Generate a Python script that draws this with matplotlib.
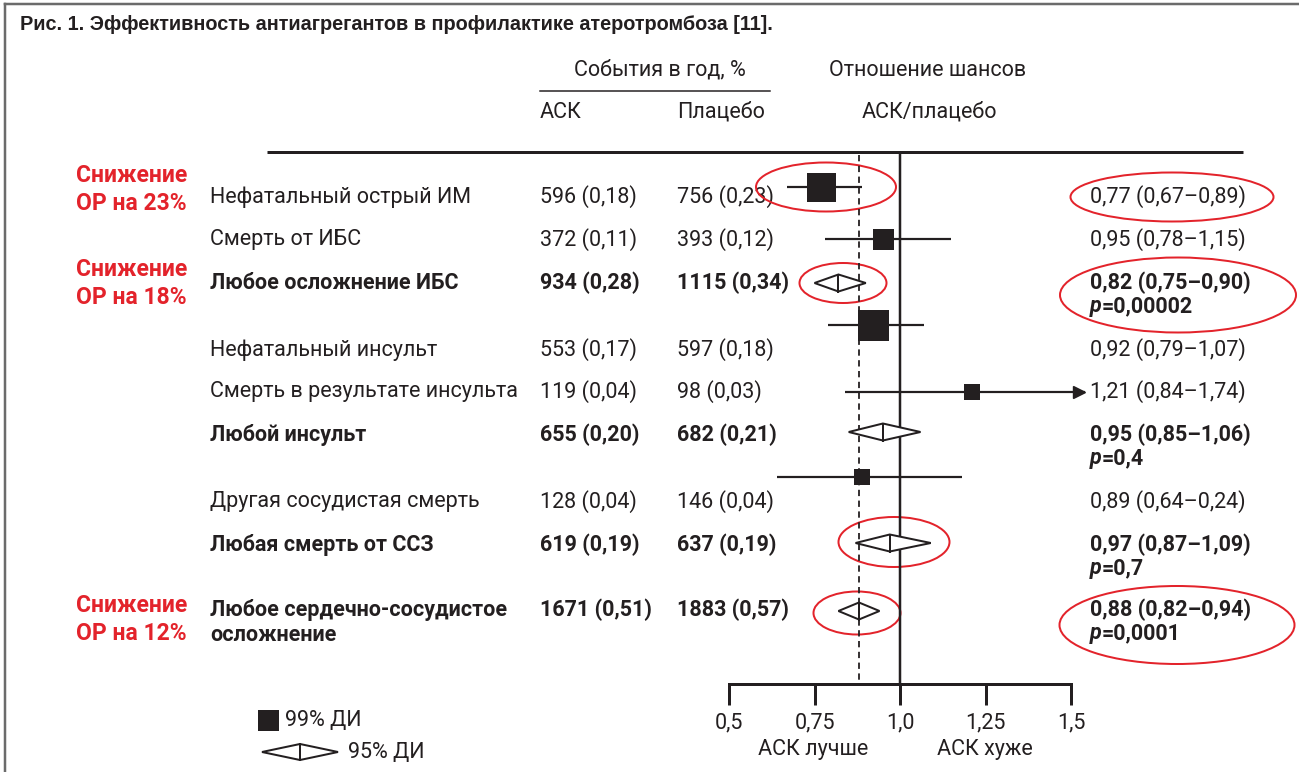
import matplotlib
matplotlib.use("Agg")
import matplotlib.pyplot as plt
from matplotlib.patches import Ellipse, Polygon

plt.rcParams["font.family"] = ["Roboto", "DejaVu Sans"]

# исходы и результаты (АСК против плацебо)
outcomes = ["Нефатальный острый ИМ", "Смерть от ИБС", "Любое осложнение ИБС",
            "Нефатальный инсульт", "Смерть в результате инсульта", "Любой инсульт",
            "Другая сосудистая смерть", "Любая смерть от ССЗ",
            "Любое сердечно-сосудистое\nосложнение"]
is_total = [False, False, True, False, False, True, False, True, True]
asa_events = ["596 (0,18)", "372 (0,11)", "934 (0,28)", "553 (0,17)", "119 (0,04)",
              "655 (0,20)", "128 (0,04)", "619 (0,19)", "1671 (0,51)"]
placebo_events = ["756 (0,23)", "393 (0,12)", "1115 (0,34)", "597 (0,18)", "98 (0,03)",
                  "682 (0,21)", "146 (0,04)", "637 (0,19)", "1883 (0,57)"]
odds = [0.77, 0.95, 0.82, 0.92, 1.21, 0.95, 0.89, 0.97, 0.88]
ci_lo = [0.67, 0.78, 0.75, 0.79, 0.84, 0.85, 0.64, 0.87, 0.82]
ci_hi = [0.89, 1.15, 0.90, 1.07, 1.74, 1.06, 1.18, 1.09, 0.94]
or_text = ["0,77 (0,67–0,89)", "0,95 (0,78–1,15)", "0,82 (0,75–0,90)",
           "0,92 (0,79–1,07)", "1,21 (0,84–1,74)", "0,95 (0,85–1,06)",
           "0,89 (0,64–0,24)", "0,97 (0,87–1,09)", "0,88 (0,82–0,94)"]
p_values = [None, None, "0,00002", None, None, "0,4", None, "0,7", "0,0001"]
overall_or = 0.88
ticks = [0.5, 0.75, 1.0, 1.25, 1.5]
tick_labels = ["0,5", "0,75", "1,0", "1,25", "1,5"]
reduction = ["Снижение\nОР на 23%", "Снижение\nОР на 18%", "Снижение\nОР на 12%"]

# раскладка в пикселях
text_y = [197, 240, 283, 350, 392, 435, 502, 545, 610]
mark_y = [187, 239, 283, 325, 392, 432, 477, 543, 611]
mark_px = [29, 21, 0, 31, 16, 0, 16, 0, 0]
reduction_y = [190, 283, 620]
X_LABEL, X_ASA, X_PLC, X_OR = 210, 540, 677, 1090
INK = "#231f20"
RED = "#e3232b"
FS = 15.5
PX = 0.72  # pt на пиксель при dpi=100

fig = plt.figure(figsize=(12.99, 7.72), dpi=100)
bg = fig.add_axes([0, 0, 1, 1])
bg.set_xlim(0, 1299)
bg.set_ylim(772, 0)
bg.axis("off")

# рамка
bg.plot([5, 5], [4, 772], color="#6b6b6b", lw=2.5 * PX)
bg.plot([5, 1299], [4, 4], color="#6b6b6b", lw=2.5 * PX)

bg.text(20, 25, "Рис. 1. Эффективность антиагрегантов в профилактике атеротромбоза [11].",
        family=["Liberation Sans", "DejaVu Sans"], weight="bold",
        fontsize=14.3, color=INK, va="center", ha="left")

# шапка таблицы
bg.text(660, 70, "События в год, %", fontsize=FS, color=INK, ha="center", va="center")
bg.plot([540, 770], [91, 91], color=INK, lw=1.5 * PX)
bg.text(X_ASA, 112, "АСК", fontsize=FS, color=INK, ha="left", va="center")
bg.text(X_PLC, 112, "Плацебо", fontsize=FS, color=INK, ha="left", va="center")
bg.text(928, 70, "Отношение шансов", fontsize=FS, color=INK, ha="center", va="center")
bg.text(929, 112, "АСК/плацебо", fontsize=FS, color=INK, ha="center", va="center")
bg.plot([267, 1243], [152, 152], color=INK, lw=3 * PX, solid_capstyle="butt")

for i, name in enumerate(outcomes):
    w = "bold" if is_total[i] else "normal"
    y = text_y[i]
    for k, line in enumerate(name.split("\n")):
        bg.text(X_LABEL, y + 25 * k, line, fontsize=FS, color=INK, weight=w,
                ha="left", va="center")
    bg.text(X_ASA, y, asa_events[i], fontsize=FS, color=INK, weight=w, ha="left", va="center")
    bg.text(X_PLC, y, placebo_events[i], fontsize=FS, color=INK, weight=w, ha="left", va="center")
    bg.text(X_OR, y, or_text[i], fontsize=FS, color=INK, weight=w, ha="left", va="center")
    if p_values[i]:
        pt = bg.text(X_OR, y + 23, "p", fontsize=FS, color=INK, weight="bold",
                     style="italic", ha="left", va="center")
        bg.annotate("=" + p_values[i], xy=(1, y + 23), xycoords=(pt, "data"),
                    fontsize=FS, color=INK, weight="bold", ha="left", va="center")

for txt, y in zip(reduction, reduction_y):
    a, b = txt.split("\n")
    bg.text(187, y - 14, a, fontsize=16.5, color=RED, weight="bold", ha="right", va="center")
    bg.text(187, y + 14, b, fontsize=16.5, color=RED, weight="bold", ha="right", va="center")

# шкала отношения шансов
ax = fig.add_axes([729 / 1299, (772 - 684) / 772, 342 / 1299, (684 - 152) / 772])
ax.set_facecolor("none")
ax.set_xlim(0.5, 1.5)
ax.set_ylim(684, 152)
for s in ("top", "left", "right"):
    ax.spines[s].set_visible(False)
ax.spines["bottom"].set_linewidth(3 * PX)
ax.spines["bottom"].set_color(INK)
ax.set_yticks([])
ax.set_xticks(ticks)
ax.set_xticklabels(tick_labels)
ax.tick_params(axis="x", direction="out", length=21 * PX, width=3 * PX, color=INK,
               labelsize=FS, labelcolor=INK, pad=5)

ax.axvline(1.0, color=INK, lw=2.5 * PX, zorder=1)
ax.plot([overall_or, overall_or], [155, 684], color=INK, lw=1.8 * PX,
        dashes=(3.5, 2.5), zorder=1)

ARROW_END = 1.54
for i in range(len(odds)):
    y = mark_y[i]
    if mark_px[i]:
        hi = min(ci_hi[i], ARROW_END)
        ax.plot([ci_lo[i], hi], [y, y], color=INK, lw=2.2 * PX, clip_on=False, zorder=2,
                solid_capstyle="butt")
        if ci_hi[i] > 1.5:
            ax.plot([ARROW_END - 0.018], [y], marker=">", ms=12 * PX, color=INK,
                    clip_on=False, zorder=3)
        ax.plot([odds[i]], [y], marker="s", ms=mark_px[i] * PX, color=INK,
                mec=INK, mew=0, clip_on=False, zorder=3)
    else:
        d = Polygon([[ci_lo[i], y], [odds[i], y - 8.5], [ci_hi[i], y], [odds[i], y + 8.5]],
                    closed=True, fc="white", ec=INK, lw=2 * PX, zorder=3, clip_on=False)
        ax.add_patch(d)
        ax.plot([odds[i], odds[i]], [y - 8.5, y + 8.5], color=INK, lw=2 * PX, zorder=4)

bg.text(813, 749, "АСК лучше", fontsize=FS, color=INK, ha="center", va="center")
bg.text(985, 749, "АСК хуже", fontsize=FS, color=INK, ha="center", va="center")

# легенда
bg.add_patch(plt.Rectangle((258, 710), 21, 21, color=INK, lw=0))
bg.text(285, 720, "99% ДИ", fontsize=FS, color=INK, ha="left", va="center")
bg.add_patch(Polygon([[262, 752], [300, 744], [338, 752], [300, 760]], closed=True,
                     fc="white", ec=INK, lw=2 * PX))
bg.plot([300, 300], [744, 760], color=INK, lw=2 * PX)
bg.text(348, 752, "95% ДИ", fontsize=FS, color=INK, ha="left", va="center")

# выделения
for cx, cy, w, h in [(826, 187, 140, 49), (1172, 197, 203, 49), (843, 283, 87, 40),
                     (1178, 295, 236, 75), (894, 542, 111, 50), (857, 613, 87, 43),
                     (1177, 625, 235, 78)]:
    bg.add_patch(Ellipse((cx, cy), w, h, fill=False, ec=RED, lw=2 * PX, zorder=5))

fig.savefig("out.png", dpi=100)
